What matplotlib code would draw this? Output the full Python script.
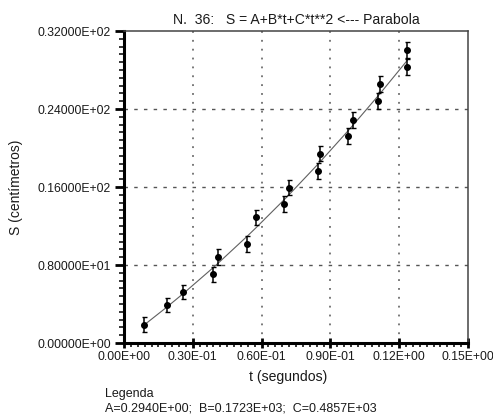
import numpy as np
import matplotlib
matplotlib.use("Agg")
from matplotlib import pyplot as plt
from matplotlib.ticker import MultipleLocator

plt.rcParams['font.family'] = ['Liberation Sans', 'DejaVu Sans']

# datos medidos (t en segundos, S en centimetros)
t = [0.0087, 0.0189, 0.0259, 0.0388, 0.0409, 0.0538, 0.0576, 0.0698, 0.0718,
     0.0846, 0.0856, 0.0977, 0.0999, 0.1108, 0.1118, 0.1235, 0.1235]
S = [1.88, 3.90, 5.23, 7.05, 8.82, 10.16, 12.90, 14.26, 15.93,
     17.65, 19.42, 21.20, 22.88, 24.80, 26.57, 28.28, 30.03]
S_err = [0.75, 0.75, 0.75, 0.75, 0.78, 0.78, 0.78, 0.78, 0.78,
         0.8, 0.8, 0.8, 0.8, 0.8, 0.8, 0.82, 0.82]

# coeficientes del ajuste S = A + B*t + C*t**2
A, B, C = 0.2940, 0.1723e3, 0.4857e3

xticks = [0.0, 0.03, 0.06, 0.09, 0.12, 0.15]
xticklabels = ['0.00E+00', '0.30E-01', '0.60E-01', '0.90E-01', '0.12E+00', '0.15E+00']
yticks = [0, 8, 16, 24, 32]
yticklabels = ['0.00000E+00', '0.80000E+01', '0.16000E+02', '0.24000E+02', '0.32000E+02']

txt = '#1a1a1a'

fig = plt.figure(figsize=(4.93, 4.15), dpi=100)
ax = fig.add_axes([124 / 493, 1 - 343 / 415, 344 / 493, 312 / 415])

# rejilla
for x in xticks[1:-1]:
    ax.axvline(x, color='#555555', lw=1.1, linestyle=(0, (1.2, 4.6)), zorder=0)
for y in yticks[1:-1]:
    ax.axhline(y, color='#555555', lw=1.0, linestyle=(0, (2.5, 4.5)), zorder=0)

# curva ajustada
tt = np.array(sorted(t))
ax.plot(tt, A + B * tt + C * tt ** 2, color='#606060', lw=0.8, zorder=2)

# puntos con barras de error
ax.errorbar(t, S, yerr=S_err, fmt='o', color='black', ms=4, elinewidth=1.1,
            capsize=1.8, capthick=1.0, zorder=3)

ax.set_xlim(0, 0.15)
ax.set_ylim(0, 32)
ax.set_xticks(xticks)
ax.set_xticklabels(xticklabels)
ax.set_yticks(yticks)
ax.set_yticklabels(yticklabels)
ax.xaxis.set_minor_locator(MultipleLocator(0.003))
ax.yaxis.set_minor_locator(MultipleLocator(0.8))

ax.tick_params(axis='y', which='major', direction='out', length=6.5, width=2.0,
               labelsize=8.8, labelcolor=txt, pad=3)
ax.tick_params(axis='y', which='minor', direction='out', length=3.6, width=1.1)
ax.tick_params(axis='x', which='major', direction='inout', length=7, width=2.0,
               labelsize=8.8, labelcolor=txt, pad=2)
ax.tick_params(axis='x', which='minor', direction='out', length=3.0, width=1.1)

for side in ['left', 'bottom']:
    ax.spines[side].set_linewidth(2.2)
    ax.spines[side].set_color('black')
for side in ['top', 'right']:
    ax.spines[side].set_linewidth(1.1)
    ax.spines[side].set_color('#444444')

ax.set_title('N.  36:   S = A+B*t+C*t**2 <--- Parabola', fontsize=10.1, color=txt, pad=5)
ax.set_xlabel('t (segundos)', fontsize=10.1, color=txt)
ax.xaxis.set_label_coords(0.477, -0.085)
ax.set_ylabel('S (centímetros)', fontsize=10.0, color=txt)
ax.yaxis.set_label_coords(-0.294, 0.5)

fig.text(105 / 493, 1 - 394 / 415, 'Legenda', fontsize=9.0, color=txt, va='center')
fig.text(105 / 493, 1 - 408 / 415, 'A=0.2940E+00;  B=0.1723E+03;  C=0.4857E+03',
         fontsize=9.0, color=txt, va='center')

fig.savefig('out.png', dpi=100)
